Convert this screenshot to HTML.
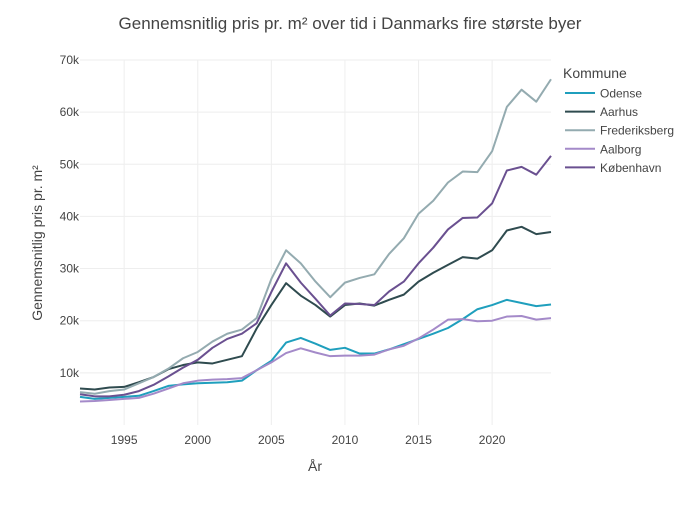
<!DOCTYPE html>
<html><head><meta charset="utf-8"><style>
body{margin:0;background:#fff;font-family:"Liberation Sans",sans-serif}
</style></head><body>
<svg id="c" width="700" height="500" xmlns="http://www.w3.org/2000/svg" style="font-family:'Liberation Sans',sans-serif">
<text x="350" y="29" text-anchor="middle" font-size="17" fill="#444">Gennemsnitlig pris pr. m² over tid i Danmarks fire største byer</text>
<g id="grid"></g><g id="series"></g>
<text x="315" y="471" text-anchor="middle" font-size="14" fill="#444">År</text>
<text transform="translate(42,243) rotate(-90)" text-anchor="middle" font-size="14" fill="#444">Gennemsnitlig pris pr. m²</text>
<g id="legend"></g>
</svg>
<script>
const years=[];for(let y=1992;y<=2024;y++)years.push(y);
const names=["Odense","Aarhus","Frederiksberg","Aalborg","København"];
const colors=["#1f9fbd","#2f4b4f","#94abb0","#a48ac9","#6a5090"];
const odense=[5.4,5.0,5.2,5.4,5.6,6.5,7.5,7.8,8.0,8.1,8.2,8.5,10.5,12.3,15.8,16.7,15.6,14.4,14.8,13.7,13.7,14.5,15.5,16.5,17.5,18.6,20.3,22.2,23.0,24.0,23.4,22.8,23.1];
const aarhus=[7.0,6.8,7.2,7.3,8.2,9.2,10.7,11.5,12.0,11.8,12.5,13.2,18.5,23.0,27.2,24.8,23.0,20.8,23.0,23.3,22.9,24.0,25.0,27.5,29.2,30.7,32.2,31.9,33.5,37.3,38.0,36.6,37.0];
const frederiksberg=[6.3,6.0,6.5,6.8,8.0,9.2,10.8,12.8,14.0,16.0,17.5,18.3,20.5,28.0,33.5,31.0,27.5,24.5,27.3,28.2,28.9,32.8,35.8,40.5,43.0,46.5,48.6,48.5,52.5,61.0,64.3,62.0,66.3];
const aalborg=[4.5,4.6,4.8,5.0,5.2,6.0,7.0,8.0,8.5,8.7,8.8,9.0,10.5,12.0,13.8,14.7,13.9,13.2,13.3,13.3,13.5,14.5,15.2,16.6,18.3,20.2,20.3,19.9,20.0,20.8,20.9,20.2,20.5];
const kobenhavn=[5.9,5.5,5.5,5.8,6.5,7.7,9.3,11.0,12.5,14.8,16.5,17.5,19.5,25.5,31.0,27.3,24.2,21.0,23.3,23.2,23.0,25.6,27.5,31.0,34.0,37.5,39.7,39.8,42.5,48.8,49.5,48.0,51.6];
const xTicks=[1995,2000,2005,2010,2015,2020];
const yTicks=[10,20,30,40,50,60,70];
const yTickLabels=["10k","20k","30k","40k","50k","60k","70k"];
const series=[odense,aarhus,frederiksberg,aalborg,kobenhavn];
const X=y=>80+(y-1992)*(471/32);
const Y=v=>425-v*5.215;
const NS="http://www.w3.org/2000/svg";
function mk(t,a,p){const e=document.createElementNS(NS,t);for(const k in a)e.setAttribute(k,a[k]);p.appendChild(e);return e;}
const g=document.getElementById('grid');
xTicks.forEach(t=>{
 const l=mk('line',{x1:X(t),x2:X(t),y1:60,y2:425,stroke:'#eee','stroke-width':1},g);
 
 
 const tx=mk('text',{x:X(t),y:444,'text-anchor':'middle','font-size':12,fill:'#444'},g);tx.textContent=t;
 
 
});
yTicks.forEach((t,i)=>{
 const l=mk('line',{x1:80,x2:551,y1:Y(t),y2:Y(t),stroke:'#eee','stroke-width':1},g);
 
 
 const tx=mk('text',{x:79,y:Y(t)+4,'text-anchor':'end','font-size':12,fill:'#444'},g);tx.textContent=yTickLabels[i];
 
 
});
const s=document.getElementById('series');
series.forEach((d,i)=>{
 const p=mk('polyline',{points:d.map((v,j)=>X(years[j])+','+Y(v)).join(' '),fill:'none',stroke:colors[i],'stroke-width':2,'stroke-linejoin':'round'},s);
 
 
});
const lg=document.getElementById('legend');
const lt=mk('text',{x:563,y:78,'font-size':14,fill:'#444'},lg);lt.textContent='Kommune';


names.forEach((n,i)=>{
 const y=93+i*18.6;
 const l=mk('line',{x1:565,x2:595,y1:y,y2:y,stroke:colors[i],'stroke-width':2},lg);
 
 
 const t=mk('text',{x:600,y:y+4.5,'font-size':12,fill:'#444'},lg);t.textContent=n;
 
 
});
</script>
</body></html>
